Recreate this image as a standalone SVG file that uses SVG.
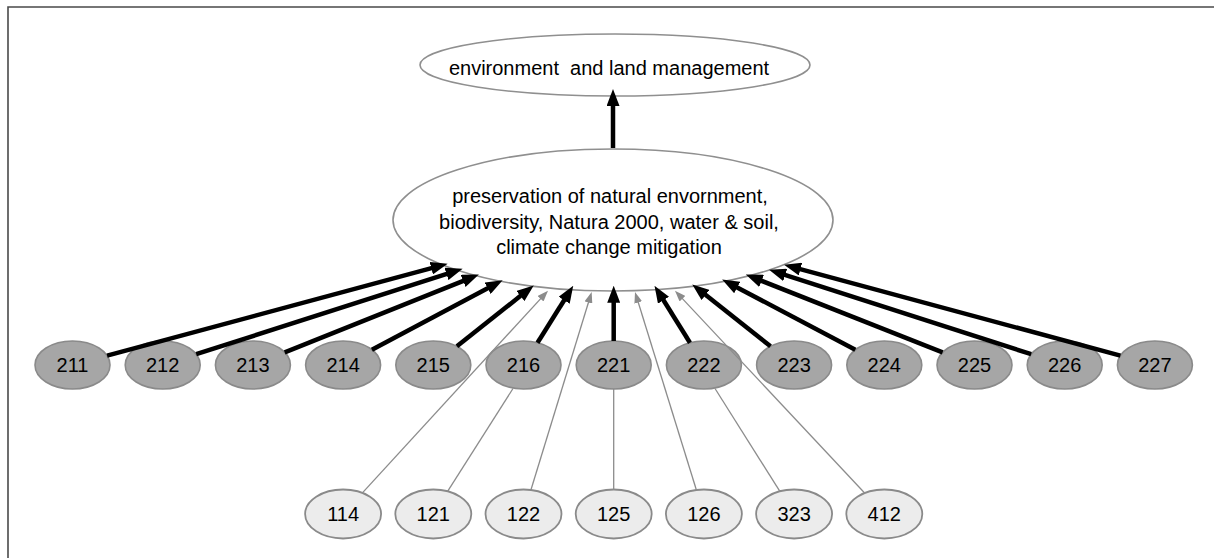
<svg xmlns="http://www.w3.org/2000/svg" width="1214" height="558" viewBox="0 0 1214 558">
<style>
text{font-family:"Liberation Sans",Arial,sans-serif;fill:#000;text-anchor:middle}
.big{font-size:20px}
.num{font-size:20px}
.main{fill:#fff;stroke:#8f8f8f;stroke-width:1.6}
.dark{fill:#a6a6a6;stroke:#8a8a8a;stroke-width:1.6}
.light{fill:#ececec;stroke:#8a8a8a;stroke-width:1.8}
.thick{stroke:#000;stroke-width:4.5;fill:none;marker-end:url(#ah)}
.thin{stroke:#8c8c8c;stroke-width:1.3;fill:none}
.thinA{stroke:#8c8c8c;stroke-width:1.3;fill:none;marker-end:url(#ahg)}
</style>
<defs>
<marker id="ah" markerUnits="userSpaceOnUse" markerWidth="17" markerHeight="13" refX="7" refY="6.5" orient="auto"><path d="M0,0 L17,6.5 L0,13 z" fill="#000"/></marker>
<marker id="ahg" markerUnits="userSpaceOnUse" markerWidth="11" markerHeight="8" refX="7" refY="4" orient="auto"><path d="M0,0 L11,4 L0,8 z" fill="#8c8c8c"/></marker>
</defs>
<rect width="1214" height="558" fill="#fff"/>
<path d="M8,558 V7 H1214" fill="none" stroke="#4a4a4a" stroke-width="1.6"/>

<g id="top">
<ellipse class="main" cx="615" cy="65" rx="195" ry="31"/>
<text class="big" x="609" y="75" font-size="19.5" xml:space="preserve">environment  and land management</text>
</g>
<g id="center">
<ellipse class="main" cx="613" cy="220" rx="220" ry="71"/>
<text class="big" x="610" y="203">preservation of natural envornment,</text>
<text class="big" x="609" y="229">biodiversity, Natura 2000, water &amp; soil,</text>
<text class="big" x="609" y="254">climate change mitigation</text>
</g>

<g id="n211"><ellipse class="dark" cx="72.5" cy="365" rx="37.5" ry="24"/><text class="num" x="72.5" y="372">211</text></g>
<g id="n212"><ellipse class="dark" cx="162.7" cy="365" rx="37.5" ry="24"/><text class="num" x="162.7" y="372">212</text></g>
<g id="n213"><ellipse class="dark" cx="252.9" cy="365" rx="37.5" ry="24"/><text class="num" x="252.9" y="372">213</text></g>
<g id="n214"><ellipse class="dark" cx="343.1" cy="365" rx="37.5" ry="24"/><text class="num" x="343.1" y="372">214</text></g>
<g id="n215"><ellipse class="dark" cx="433.3" cy="365" rx="37.5" ry="24"/><text class="num" x="433.3" y="372">215</text></g>
<g id="n216"><ellipse class="dark" cx="523.5" cy="365" rx="37.5" ry="24"/><text class="num" x="523.5" y="372">216</text></g>
<g id="n221"><ellipse class="dark" cx="613.7" cy="365" rx="37.5" ry="24"/><text class="num" x="613.7" y="372">221</text></g>
<g id="n222"><ellipse class="dark" cx="703.9" cy="365" rx="37.5" ry="24"/><text class="num" x="703.9" y="372">222</text></g>
<g id="n223"><ellipse class="dark" cx="794.1" cy="365" rx="37.5" ry="24"/><text class="num" x="794.1" y="372">223</text></g>
<g id="n224"><ellipse class="dark" cx="884.3" cy="365" rx="37.5" ry="24"/><text class="num" x="884.3" y="372">224</text></g>
<g id="n225"><ellipse class="dark" cx="974.5" cy="365" rx="37.5" ry="24"/><text class="num" x="974.5" y="372">225</text></g>
<g id="n226"><ellipse class="dark" cx="1064.7" cy="365" rx="37.5" ry="24"/><text class="num" x="1064.7" y="372">226</text></g>
<g id="n227"><ellipse class="dark" cx="1154.9" cy="365" rx="37.5" ry="24"/><text class="num" x="1154.9" y="372">227</text></g>

<g id="n114"><ellipse class="light" cx="343.1" cy="514" rx="38" ry="24.5"/><text class="num" x="343.1" y="521">114</text></g>
<g id="n121"><ellipse class="light" cx="433.3" cy="514" rx="38" ry="24.5"/><text class="num" x="433.3" y="521">121</text></g>
<g id="n122"><ellipse class="light" cx="523.5" cy="514" rx="38" ry="24.5"/><text class="num" x="523.5" y="521">122</text></g>
<g id="n125"><ellipse class="light" cx="613.7" cy="514" rx="38" ry="24.5"/><text class="num" x="613.7" y="521">125</text></g>
<g id="n126"><ellipse class="light" cx="703.9" cy="514" rx="38" ry="24.5"/><text class="num" x="703.9" y="521">126</text></g>
<g id="n323"><ellipse class="light" cx="794.1" cy="514" rx="38" ry="24.5"/><text class="num" x="794.1" y="521">323</text></g>
<g id="n412"><ellipse class="light" cx="884.3" cy="514" rx="38" ry="24.5"/><text class="num" x="884.3" y="521">412</text></g>

<g id="connectors">
<line class="thick" x1="613" y1="148" x2="613" y2="99"/>
<line class="thick" x1="107.1" y1="355.7" x2="438.0" y2="266.3"/>
<line class="thick" x1="196.2" y1="354.2" x2="453.1" y2="271.8"/>
<line class="thick" x1="284.7" y1="352.3" x2="469.6" y2="278.3"/>
<line class="thick" x1="371.9" y1="349.7" x2="493.8" y2="284.9"/>
<line class="thick" x1="456.9" y1="346.3" x2="525.9" y2="291.6"/>
<line class="thick" x1="537.5" y1="342.7" x2="567.9" y2="294.3"/>
<line class="thick" x1="613.7" y1="341" x2="613.7" y2="295.7"/>
<line class="thick" x1="690.0" y1="342.7" x2="659.8" y2="294.3"/>
<line class="thick" x1="770.5" y1="346.3" x2="700.1" y2="290.6"/>
<line class="thick" x1="855.3" y1="349.7" x2="731.0" y2="284.2"/>
<line class="thick" x1="942.6" y1="352.4" x2="755.1" y2="278.3"/>
<line class="thick" x1="1031.2" y1="354.2" x2="778.6" y2="272.8"/>
<line class="thick" x1="1120.4" y1="355.7" x2="793.7" y2="267.3"/>
<line class="thinA" x1="362.4" y1="492.9" x2="545.3" y2="293.6"/>
<line class="thinA" x1="530.9" y1="490.0" x2="590.5" y2="295.8"/>
<line class="thinA" x1="696.4" y1="490.0" x2="636.2" y2="295.8"/>
<line class="thinA" x1="864.6" y1="493.0" x2="677.7" y2="293.6"/>
<line class="thin" x1="447.6" y1="491.3" x2="513" y2="388.5"/>
<line class="thin" x1="613.7" y1="489.5" x2="613.7" y2="389"/>
<line class="thin" x1="779.9" y1="491.4" x2="715" y2="388.5"/>
</g>
</svg>
